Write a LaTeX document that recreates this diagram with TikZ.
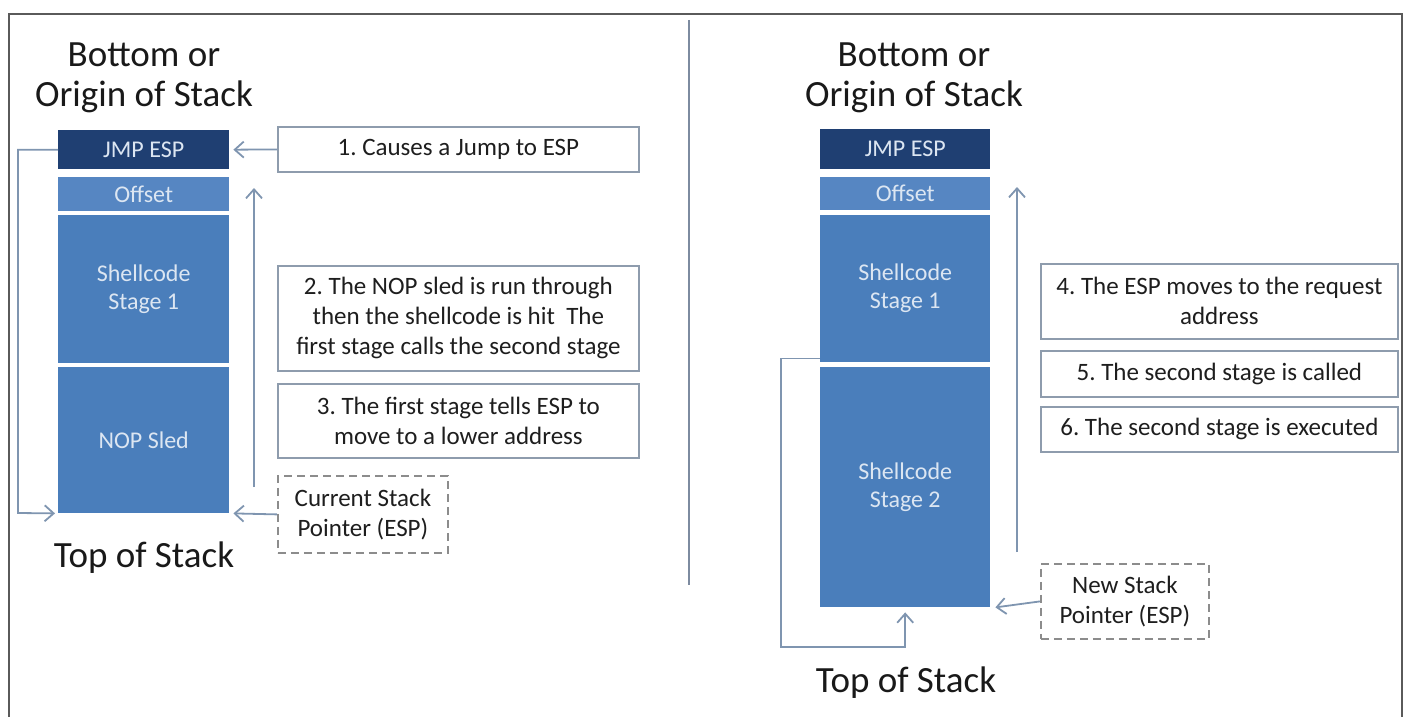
\documentclass[tikz,border=0pt]{standalone}
\usepackage{fontspec}
\setmainfont{Carlito}
\usetikzlibrary{arrows.meta,calc}
\frenchspacing
\definecolor{blockdark}{HTML}{1F3F72}
\definecolor{blockc}{HTML}{4A7EBB}
\definecolor{blockoff}{HTML}{5686C2}
\definecolor{blocktxt}{HTML}{DCE6F2}
\definecolor{boxc}{HTML}{8E9CAD}
\definecolor{connc}{HTML}{7F95B0}
\definecolor{dashc}{HTML}{8C8C8C}
\definecolor{txtc}{HTML}{1E1E1E}
\definecolor{framec}{HTML}{5A5A5A}
\definecolor{divc}{HTML}{7D8BA0}
\tikzset{
  blk/.style={fill=blockc, draw=none, text=blocktxt, font=\fontsize{24}{28}\selectfont, align=center, inner sep=0pt, anchor=north west},
  note/.style={draw=boxc, line width=1.8pt, fill=white, font=\fontsize{25}{30}\selectfont, text=txtc, align=center, inner sep=0pt, anchor=north west},
  dnote/.style={note, draw=dashc, dash pattern=on 8pt off 5pt},
  title/.style={font=\fontsize{37}{40}\selectfont, text=black!90, align=center, inner sep=0pt},
  conn/.style={draw=connc, line width=1.8pt},
  arr/.style={conn, -{Straight Barb[length=9pt,width=16pt,line width=1.8pt]}}
}
\begin{document}
\begin{tikzpicture}[x=1pt,y=-1pt]
\useasboundingbox (0,0) rectangle (1406,717);
% frame and divider
\draw[framec, line width=2pt] (9,717) -- (9,14) -- (1402,14) -- (1402,717);
\draw[divc, line width=2pt] (689,20) -- (689,585);

% ---------- left stack ----------
\node[title] (titleL) at (144,78) {Bottom or\\Origin of Stack};
\node[blk, fill=blockdark, minimum width=171pt, minimum height=39pt] (jmpL) at (58,130) {JMP ESP};
\node[blk, fill=blockoff, minimum width=171pt, minimum height=34pt] (offL) at (58,177) {Offset};
\node[blk, minimum width=171pt, minimum height=148pt] (s1L) at (58,215) {Shellcode\\Stage 1};
\node[blk, minimum width=171pt, minimum height=146pt] (nopL) at (58,367) {NOP Sled};
\node[title, anchor=base] (topL) at (144,567) {Top of Stack};

\node[note, minimum width=361pt, minimum height=45pt] (box1) at (277,126) {1. Causes a Jump to ESP};
\node[note, minimum width=361pt, minimum height=105pt] (box2) at (277,265) {2. The NOP sled is run through\\then the shellcode is hit\ \ The\\first stage calls the second stage};
\node[note, minimum width=361pt, minimum height=74pt] (box3) at (277,383) {3. The first stage tells ESP to\\move to a lower address};
\node[dnote, minimum width=170pt, minimum height=77pt] (dashL) at (277,475) {Current Stack\\Pointer (ESP)};

\coordinate (loopL) at (18,513);
\draw[arr] (jmpL.west) -| (loopL) -- ([xshift=-3pt]nopL.south west);
\draw[arr] (box1.west) -- ([xshift=4pt]jmpL.east);
\draw[arr] (dashL.west) -- ([xshift=4pt]nopL.south east);
\coordinate (upLb) at (254,487);
\coordinate (upLt) at (254,188);
\draw[arr] (upLb) -- (upLt);

% ---------- right stack ----------
\node[title] (titleR) at (914,78) {Bottom or\\Origin of Stack};
\node[blk, fill=blockdark, minimum width=170pt, minimum height=40pt] (jmpR) at (820,129) {JMP ESP};
\node[blk, fill=blockoff, minimum width=170pt, minimum height=33pt] (offR) at (820,177) {Offset};
\node[blk, minimum width=170pt, minimum height=147pt] (s1R) at (820,215) {Shellcode\\Stage 1};
\node[blk, minimum width=170pt, minimum height=240pt] (s2R) at (820,367) {Shellcode\\Stage 2};
\node[title, anchor=base] (topR) at (906,692) {Top of Stack};

\node[note, minimum width=357pt, minimum height=75pt] (box4) at (1040,263) {4. The ESP moves to the request\\address};
\node[note, minimum width=357pt, minimum height=46pt] (box5) at (1040,350) {5. The second stage is called};
\node[note, minimum width=357pt, minimum height=45pt] (box6) at (1040,406) {6. The second stage is executed};
\node[dnote, minimum width=168pt, minimum height=75pt] (dashR) at (1040,563) {New Stack\\Pointer (ESP)};

\coordinate (loopR) at (781,647);
\draw[arr] ([yshift=4pt]s1R.south west) -| (loopR) -| ([yshift=-5pt]s2R.south);
\draw[arr] (dashR.west) -- ([xshift=5pt]s2R.south east);
\coordinate (upRb) at (1017,552);
\coordinate (upRt) at (1017,187);
\draw[arr] (upRb) -- (upRt);
\end{tikzpicture}
\end{document}
